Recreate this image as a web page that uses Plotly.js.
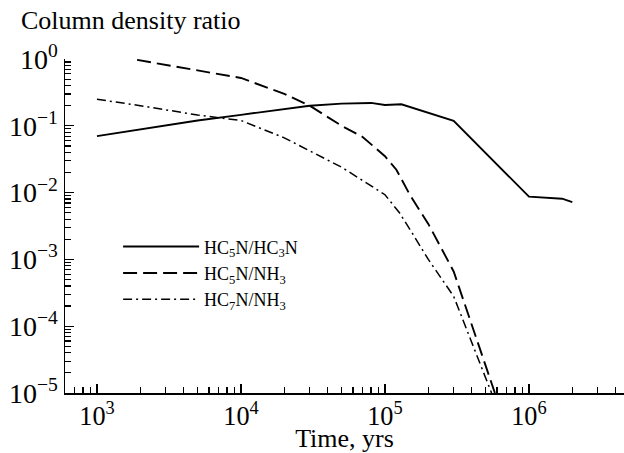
<!DOCTYPE html>
<html>
<head>
<meta charset="utf-8">
<script src="https://cdn.plot.ly/plotly-3.0.1.min.js"></script>
<style>html,body{margin:0;padding:0;background:#fff;}#chart{width:624px;height:453px;}</style>
</head>
<body>
<div id="chart"></div>
<script>
// HC5N/HC3N
const tSolid = [1e3, 2e3, 5e3, 1e4, 2e4, 3e4, 5e4, 8e4, 1e5, 1.3e5, 3e5, 1e6, 1.7e6, 2e6];
const vSolid = [0.070, 0.088, 0.12, 0.146, 0.18, 0.20, 0.215, 0.22, 0.205, 0.21, 0.119, 0.0087, 0.0081, 0.0072];
// HC5N/NH3
const tDash = [1.9e3, 1e4, 2e4, 3e4, 5e4, 7e4, 1e5, 1.2e5, 1.5e5, 2e5, 3e5, 5.8e5];
const vDash = [0.97, 0.52, 0.30, 0.20, 0.10, 0.068, 0.035, 0.022, 0.009, 0.0034, 0.00066, 0.00001];
// HC7N/NH3
const tDashDot = [1e3, 2e3, 5e3, 1e4, 2e4, 5e4, 1e5, 1.26e5, 1.56e5, 2e5, 3e5, 5.5e5];
const vDashDot = [0.25, 0.20, 0.145, 0.12, 0.066, 0.024, 0.0093, 0.005, 0.0024, 0.001, 0.00028, 0.00001];

const names = ["HC<sub>5</sub>N/HC<sub>3</sub>N", "HC<sub>5</sub>N/NH<sub>3</sub>", "HC<sub>7</sub>N/NH<sub>3</sub>"];
const xTitle = "Time, yrs";
const yTitle = "Column density ratio";
const yTickVals = [1e-5, 1e-4, 1e-3, 1e-2, 1e-1, 1];
const yTickText = ["10<sup>\u22125</sup>", "10<sup>\u22124</sup>", "10<sup>\u22123</sup>", "10<sup>\u22122</sup>", "10<sup>\u22121</sup>", "10<sup>0</sup>"];

const serif = "Liberation Serif, Times New Roman, serif";

const traces = [
  {x: tSolid, y: vSolid, name: names[0], mode: "lines", line: {color: "#000", width: 1.9, dash: "solid"}},
  {x: tDash, y: vDash, name: names[1], mode: "lines", line: {color: "#000", width: 1.9, dash: "14px,6px"}},
  {x: tDashDot, y: vDashDot, name: names[2], mode: "lines", line: {color: "#000", width: 1.5, dash: "9px,4px,2px,4px"}}
];

const layout = {
  width: 624, height: 453,
  margin: {l: 65, r: 0, t: 59, b: 60, pad: 0},
  paper_bgcolor: "#fff", plot_bgcolor: "#fff",
  font: {family: serif, color: "#000", size: 20},
  showlegend: true,
  legend: {x: 0.095, y: 0.493, xanchor: "left", yanchor: "top", font: {family: serif, size: 18, color: "#000"},
           bgcolor: "rgba(0,0,0,0)", itemwidth: 76, tracegroupgap: 0},
  title: {text: yTitle, x: 21/624, xanchor: "left", xref: "container", y: 1 - 20/453, yanchor: "middle", yref: "container",
          font: {family: serif, size: 26, color: "#000"}},
  xaxis: {type: "log", range: [2.778, 6.66], showgrid: false, zeroline: false, showline: true, linecolor: "#000", linewidth: 1.5,
          ticks: "inside", ticklen: 9, tickwidth: 1.3, tickcolor: "#000", dtick: 1, exponentformat: "power",
          tickfont: {family: serif, size: 21, color: "#000"},
          minor: {ticks: "inside", ticklen: 6, tickwidth: 1.2, tickcolor: "#000", dtick: "D1", showgrid: false},
          title: {text: xTitle, font: {family: serif, size: 26, color: "#000"}, standoff: 5}},
  yaxis: {type: "log", range: [-5, 0], showgrid: false, zeroline: false, showline: true, linecolor: "#000", linewidth: 1.5,
          ticks: "inside", ticklen: 9, tickwidth: 1.3, tickcolor: "#000", tickmode: "array", tickvals: yTickVals, ticktext: yTickText,
          tickfont: {family: serif, size: 28, color: "#000"},
          minor: {ticks: "inside", ticklen: 6, tickwidth: 1.2, tickcolor: "#000", dtick: "D1", showgrid: false}}
};

Plotly.newPlot("chart", traces, layout, {displayModeBar: false, staticPlot: true});
</script>
</body>
</html>
